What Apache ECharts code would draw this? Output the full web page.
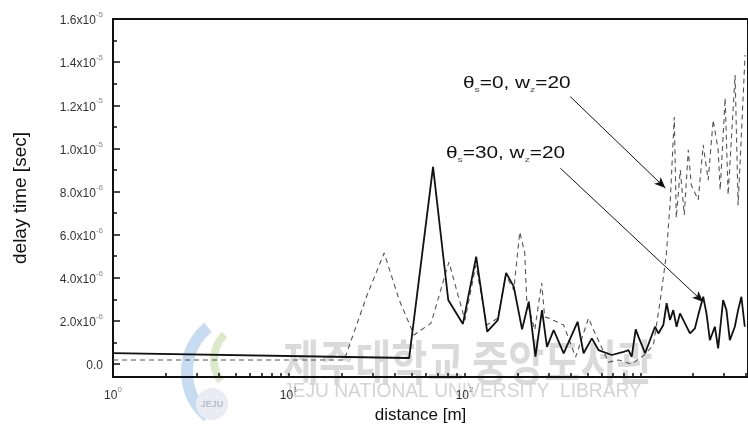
<!DOCTYPE html>
<html>
<head>
<meta charset="utf-8">
<script src="https://cdn.jsdelivr.net/npm/echarts@6/dist/echarts.min.js"></script>
<style>
html, body { margin: 0; padding: 0; background: #ffffff; }
#chart { width: 748px; height: 442px; }
</style>
</head>
<body>
<div id="chart"></div>
<script>
// theta_s = 30, w = 20 : distance [m] and delay time [x1e-6 s]
const distA = [1, 48.4, 66.2, 80.8, 97.9, 116.5, 134.5, 154.7, 172.4, 190.6,
  212.5, 231.9, 253.2, 275.9, 294.5, 321.5, 366.4, 439.8, 475.6, 530.1,
  578.5, 688.4, 802, 855.9, 893.8, 941.7, 975.5, 1065, 1213, 1267,
  1352, 1412, 1476, 1540, 1609, 1682, 1796, 1917, 2046, 2136,
  2280, 2380, 2488, 2656, 2773, 2960, 3091, 3231, 3450, 3601, 3760, 3930];
const delayA = [0.51, 0.28, 9.14, 2.97, 1.86, 4.98, 1.50, 2.04, 4.23, 3.59,
  1.61, 2.89, 0.34, 2.50, 0.80, 1.58, 0.50, 1.96, 0.50, 1.19,
  0.65, 0.42, 0.56, 0.65, 0.34, 1.61, 1.27, 0.50, 1.73, 1.42,
  1.81, 2.82, 2.04, 2.50, 1.73, 2.35, 1.89, 1.42, 1.66, 2.27,
  3.12, 2.35, 1.11, 1.73, 0.73, 2.97, 2.50, 1.11, 1.73, 2.50, 3.12, 1.73];

// theta_s = 0, w = 20
const distB = [1, 20.7, 27.9, 34.9, 42.5, 51.6, 64.5, 81.5, 91.8, 100.5,
  116.1, 134, 154.7, 171.7, 190.6, 206.2, 220.1, 225.9, 250.8, 274.8,
  285.8, 301.1, 366.4, 428.5, 507.7, 542, 659.4, 751.4, 890.3, 1055,
  1187, 1300, 1406, 1482, 1561, 1602, 1689, 1779, 1875, 1950,
  2136, 2280, 2434, 2598, 2773, 2848, 3039, 3160, 3463, 3601, 3794, 3946];
const delayB = [0.19, 0.19, 3.20, 5.15, 2.97, 1.35, 1.90, 4.73, 3.20, 2.04,
  4.59, 1.81, 2.13, 4.13, 3.43, 6.12, 5.15, 2.97, 1.58, 3.76,
  2.18, 2.13, 1.81, 0.32, 2.13, 1.58, 0.09, 0.19, 0.00, 0.42,
  0.88, 2.97, 5.06, 7.61, 11.46, 6.77, 9.00, 6.91, 9.93, 8.30,
  7.61, 10.16, 8.53, 11.32, 9.93, 8.07, 12.34, 7.84, 13.40, 7.37, 11.32, 14.33];

// y tick labels (values in 1e-6 s)
const yLabelValues = [0, 2, 4, 6, 8, 10, 12, 14, 16];
const yLabelMantissa = ['0.0', '2.0x10', '4.0x10', '6.0x10', '8.0x10', '1.0x10', '1.2x10', '1.4x10', '1.6x10'];
const yLabelExp = ['', '-6', '-6', '-6', '-6', '-5', '-5', '-5', '-5'];
const yMinorValues = [1, 3, 5, 7, 9, 11, 13, 15];

// x tick labels (decades)
const xLabelValues = [1, 10, 100];
const xLabelExp = ['0', '1', '2'];

// annotation arrows: [distance, delay] tail -> head
const arrowTails = [[399.8, 12.40], [350.9, 9.08]];
const arrowHeads = [[1388, 8.16], [2280, 2.88]];

// logarithmic tick positions 1..9 x 10^k
const xTickValues = [];
for (let k = 0; k <= 3; k++) {
  for (let m = 1; m <= 9; m++) {
    const v = m * Math.pow(10, k);
    if (v <= 4100) xTickValues.push(v);
  }
}

const seriesA = distA.map((d, i) => [d, delayA[i]]);
const seriesB = distB.map((d, i) => [d, delayB[i]]);

const chart = echarts.init(document.getElementById('chart'), null, { renderer: 'canvas' });

const labelFont = 'Liberation Sans';
const tickRich = {
  m: { fontFamily: labelFont, fontSize: 12, color: '#333', lineHeight: 16, verticalAlign: 'bottom' },
  s: { fontFamily: labelFont, fontSize: 8, color: '#888', lineHeight: 16, verticalAlign: 'top' }
};
const noteRich = {
  t: { fontFamily: labelFont, fontSize: 16, fill: '#111', lineHeight: 20, verticalAlign: 'middle' },
  b: { fontFamily: labelFont, fontSize: 8, fill: '#555', lineHeight: 20, verticalAlign: 'bottom' }
};

chart.setOption({
  animation: false,
  backgroundColor: '#ffffff',
  grid: {
    left: 113, right: -2, top: 19, bottom: 65,
    show: true, borderColor: '#111', borderWidth: 2, backgroundColor: 'transparent'
  },
  xAxis: [{
    type: 'log',
    min: 1, max: 4100, logBase: 10,
    name: 'distance [m]',
    nameLocation: 'middle',
    nameGap: 27,
    nameTextStyle: { fontFamily: labelFont, fontSize: 17, color: '#111', padding: [0, 20, 0, 0] },
    axisLine: { show: true, onZero: false, lineStyle: { color: '#111', width: 2 } },
    axisTick: { show: true, inside: true, length: 4, customValues: xTickValues, lineStyle: { color: '#111', width: 1.5 } },
    axisLabel: {
      show: true, margin: 9, customValues: xLabelValues,
      formatter: function (v) {
        const i = xLabelValues.indexOf(Math.pow(10, Math.round(Math.log10(v))));
        return '{m|10}{s|' + (i >= 0 ? xLabelExp[i] : '') + '}';
      },
      rich: tickRich
    },
    splitLine: { show: false },
    minorTick: { show: false }
  }],
  yAxis: [{
    type: 'value',
    min: -0.6, max: 16,
    name: 'delay time [sec]',
    nameLocation: 'middle',
    nameGap: 83,
    nameRotate: 90,
    nameTextStyle: { fontFamily: labelFont, fontSize: 19, color: '#111' },
    axisLine: { show: true, onZero: false, lineStyle: { color: '#111', width: 2 } },
    axisTick: { show: true, inside: true, length: 7, customValues: yLabelValues, lineStyle: { color: '#111', width: 1.5 } },
    axisLabel: {
      show: true, margin: 10, customValues: yLabelValues,
      formatter: function (v) {
        const i = yLabelValues.findIndex(t => Math.abs(t - v) < 1e-6);
        if (i < 0) return '';
        return '{m|' + yLabelMantissa[i] + '}{s|' + yLabelExp[i] + '}';
      },
      rich: tickRich
    },
    splitLine: { show: false }
  }, {
    type: 'value',
    min: -0.6, max: 16,
    position: 'left',
    axisLine: { show: false },
    axisTick: { show: true, inside: true, length: 4, customValues: yMinorValues, lineStyle: { color: '#111', width: 1.5 } },
    axisLabel: { show: false },
    splitLine: { show: false }
  }],
  series: [{
    name: 'theta_s=0, w=20',
    type: 'line',
    data: seriesB,
    symbol: 'none',
    z: 2,
    lineStyle: { color: '#555', width: 1.1, type: [5, 4] }
  }, {
    name: 'theta_s=30, w=20',
    type: 'line',
    data: seriesA,
    symbol: 'none',
    z: 3,
    lineStyle: { color: '#111', width: 1.8 },
    markLine: {
      silent: true,
      symbol: ['none', 'arrow'],
      symbolSize: [7, 11],
      label: { show: false },
      lineStyle: { color: '#111', width: 1, type: 'solid' },
      data: arrowTails.map((t, i) => [{ coord: t }, { coord: arrowHeads[i] }])
    }
  }],
  graphic: [
    // library watermark
    {
      type: 'group', z: 0, silent: true,
      children: [
        { type: 'arc', shape: { cx: 245, cy: 372, r: 58, startAngle: Math.PI * 0.72, endAngle: Math.PI * 1.28 },
          style: { stroke: '#b9d3ee', lineWidth: 12, fill: null, opacity: 0.8 } },
        { type: 'arc', shape: { cx: 250, cy: 360, r: 36, startAngle: Math.PI * 0.8, endAngle: Math.PI * 1.25 },
          style: { stroke: '#d3e5bf', lineWidth: 8, fill: null, opacity: 0.8 } },
        { type: 'circle', shape: { cx: 212, cy: 404, r: 16 }, style: { fill: '#e9edf3' } },
        { type: 'text', style: { text: 'JEJU', x: 212, y: 405, align: 'center', verticalAlign: 'middle',
          font: 'bold 9px "Liberation Sans"', fill: '#b4bfcc' } },
        { type: 'text', scaleX: 1.12, scaleY: 1.35, originX: 283, originY: 362,
          style: { text: '제주대학교 중앙도서관', x: 283, y: 362, verticalAlign: 'middle',
            font: 'bold 35px "Noto Sans CJK KR"', fill: '#dadada' } },
        { type: 'text', scaleX: 0.96, originX: 283, originY: 391,
          style: { text: 'JEJU NATIONAL UNIVERSITY  LIBRARY', x: 283, y: 391, verticalAlign: 'middle',
            font: '20px "Liberation Sans"', fill: '#d4d4d4' } }
      ]
    },
    // curve annotations
    {
      type: 'text', z: 10, silent: true, scaleX: 1.3, originX: 463, originY: 84,
      style: { x: 463, y: 84, verticalAlign: 'middle', text: '{t|θ}{b|s}{t|=0, w}{b|z}{t|=20}', rich: noteRich }
    },
    {
      type: 'text', z: 10, silent: true, scaleX: 1.3, originX: 446, originY: 154,
      style: { x: 446, y: 154, verticalAlign: 'middle', text: '{t|θ}{b|s}{t|=30, w}{b|z}{t|=20}', rich: noteRich }
    }
  ]
});
</script>
</body>
</html>
